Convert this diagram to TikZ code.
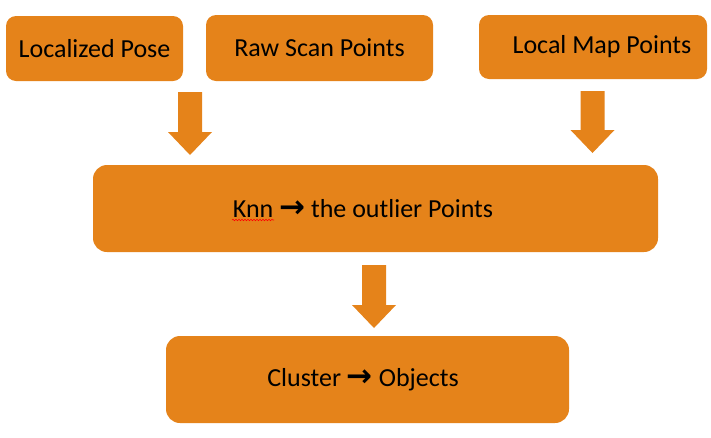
\documentclass[tikz,border=0pt]{standalone}
\usepackage{fontspec}
\setmainfont{Carlito}
\newfontfamily\arrowfont{DejaVu Sans}
\usetikzlibrary{calc}
\usetikzlibrary{decorations.pathmorphing}
\definecolor{boxorange}{HTML}{E5831A}
\tikzset{box/.style = {fill=boxorange, rounded corners=10pt, inner sep=0, font=\fontsize{26}{31}\selectfont}}
\tikzset{bigbox/.style = {box, rounded corners=14pt}}
\tikzset{squiggle/.style = {red, line width=0.6pt, decorate, decoration={snake, amplitude=0.7pt, segment length=3pt}}}
\newcommand{\rarr}{{\arrowfont\bfseries\fontsize{31}{31}\selectfont →}}
% fat down arrow: shaft 24, head 44 wide and 23 long
\newcommand{\blockarrow}[2]{\fill [boxorange] let \p1 = #1, \p2 = #2 in (\x1-12pt,\y1) -- (\x1+12pt,\y1) -- (\x1+12pt,\y2+23pt) -- (\x1+22pt,\y2+23pt) -- (\x1,\y2) -- (\x1-22pt,\y2+23pt) -- (\x1-12pt,\y2+23pt) -- cycle;}

\begin{document}
\begin{tikzpicture}[x=1pt, y=-1pt]
    \useasboundingbox (0,0) rectangle (711,437);
    \node [box, minimum width=177, minimum height=65] (pose) at (94.5,48.5) {Localized Pose};
    \node [box, minimum width=227, minimum height=66] (scan) at (319.5,48) {Raw Scan Points};
    \node [box, minimum width=228, minimum height=64] (map) at (593,47) {\hspace*{18pt}Local Map Points};
    \node [bigbox, minimum width=565, minimum height=87] (knn) at (375.5,208.5) {Knn \rarr{} the outlier Points\hspace*{25pt}};
    \node [bigbox, minimum width=403, minimum height=87] (cluster) at (367.5,379.5) {Cluster \rarr{} Objects\hspace*{9pt}};
    \coordinate (sqa) at (232,220);
    \coordinate (sqb) at (274,220);
    \draw [squiggle] (sqa) -- (sqb);
    \coordinate (a1) at (190,92);
    \coordinate (a1tip) at (190,155);
    \coordinate (a2) at (592.5,91);
    \coordinate (a2tip) at (592.5,153);
    \coordinate (a3) at (374,265);
    \coordinate (a3tip) at (374,328);
    \blockarrow{(a1)}{(a1tip)}
    \blockarrow{(a2)}{(a2tip)}
    \blockarrow{(a3)}{(a3tip)}
\end{tikzpicture}
\end{document}
